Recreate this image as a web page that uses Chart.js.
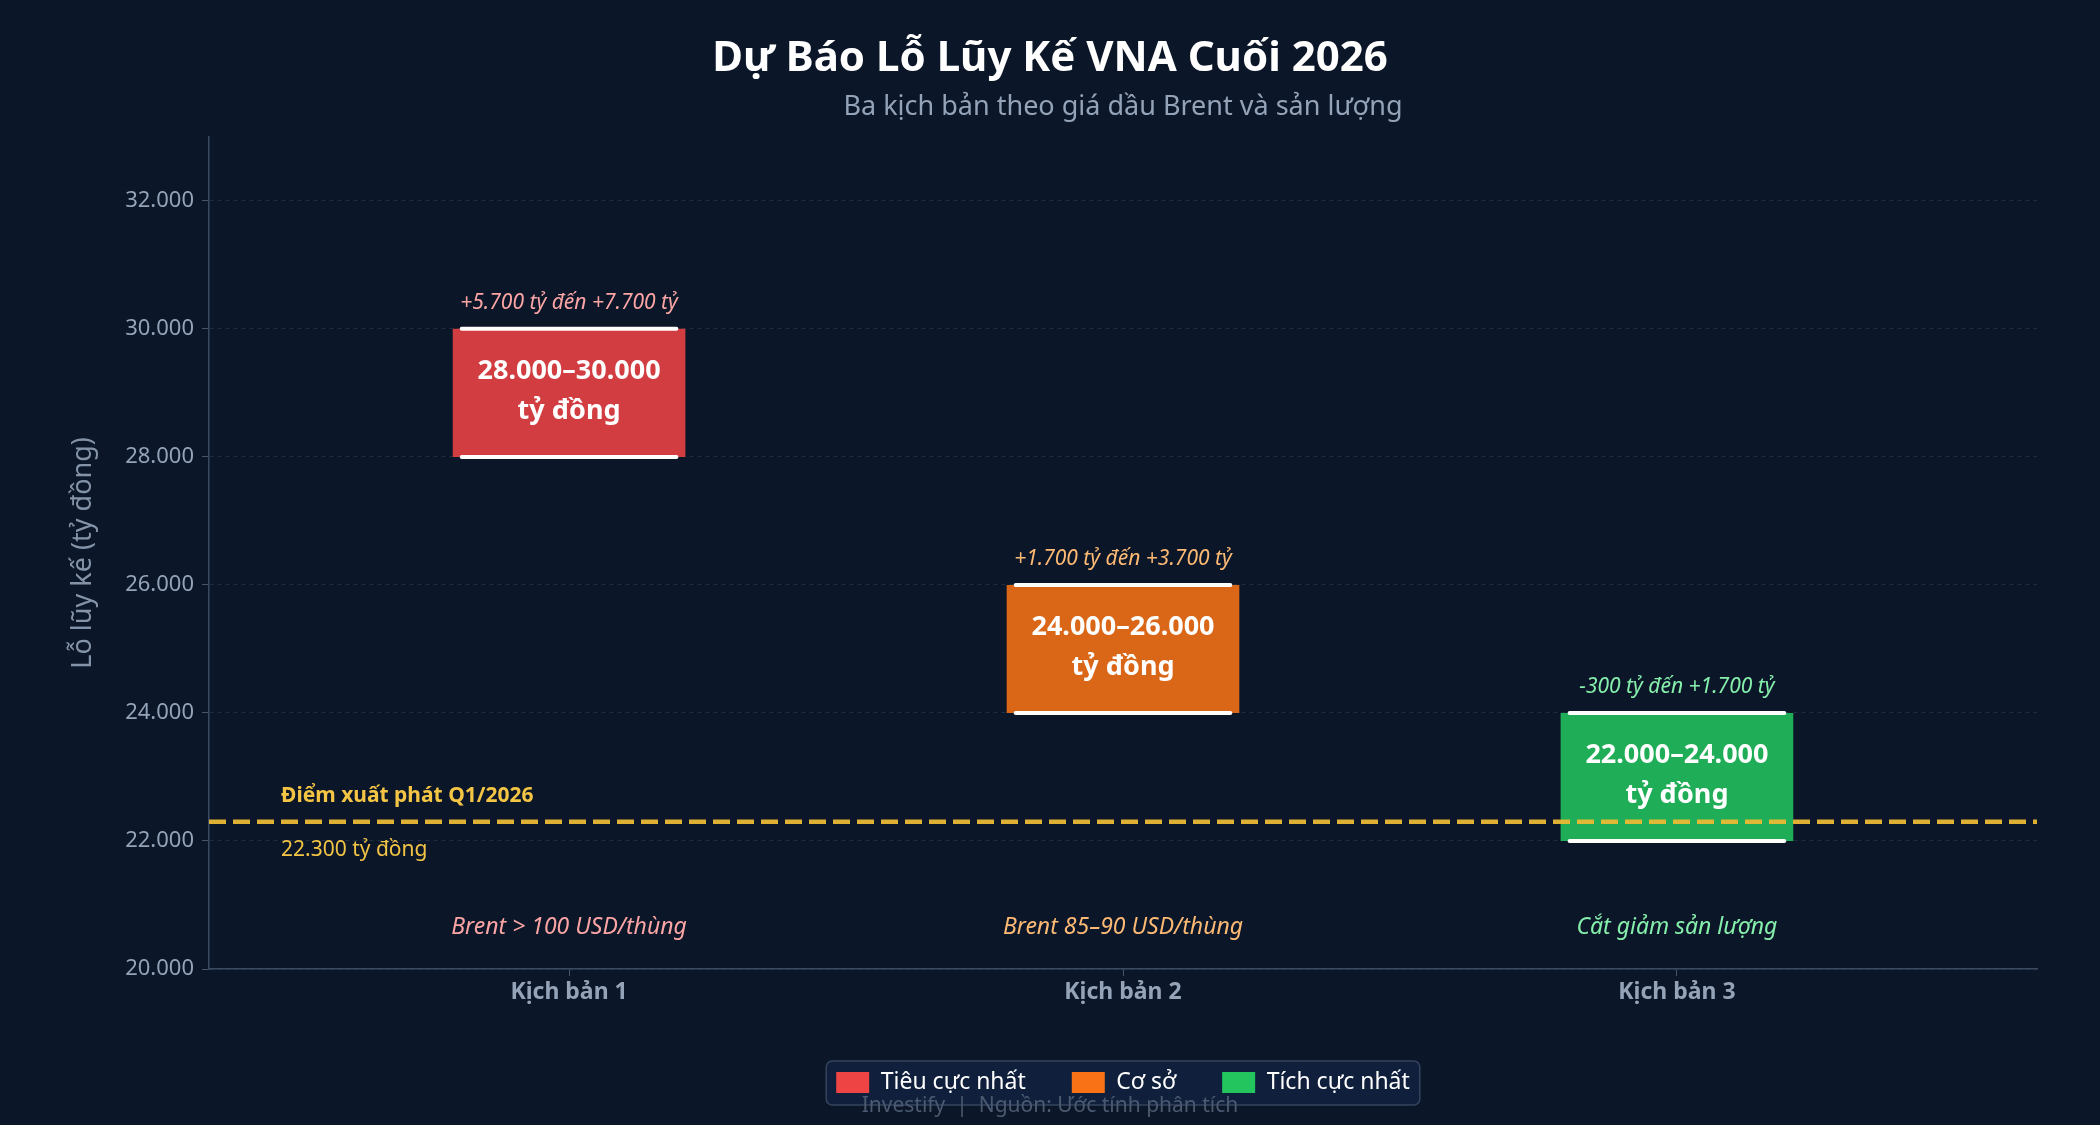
<!DOCTYPE html>
<html lang="vi">
<head>
<meta charset="utf-8">
<title>Dự Báo Lỗ Lũy Kế VNA Cuối 2026</title>
<script src="https://cdn.jsdelivr.net/npm/chart.js@4.4.1/dist/chart.umd.min.js"></script>
<style>
  html, body { margin: 0; padding: 0; background: #0b1628; }
  #wrap { width: 2100px; height: 1125px; }
</style>
</head>
<body>
<div id="wrap"><canvas id="lossChart" width="2100" height="1125"></canvas></div>
<script>
const categories = ['Kịch bản 1', 'Kịch bản 2', 'Kịch bản 3'];
const scenarioNames = ['Tiêu cực nhất', 'Cơ sở', 'Tích cực nhất'];
const lowValues = [28000, 24000, 22000];
const highValues = [30000, 26000, 24000];
const changeLabels = ['+5.700 tỷ đến +7.700 tỷ', '+1.700 tỷ đến +3.700 tỷ', '-300 tỷ đến +1.700 tỷ'];
const scenarioNotes = ['Brent > 100 USD/thùng', 'Brent 85–90 USD/thùng', 'Cắt giảm sản lượng'];
const startValue = 22300;
const yTicks = [20000, 22000, 24000, 26000, 28000, 30000, 32000];

const barColors = ['rgba(239,68,68,0.87)', 'rgba(249,115,22,0.87)', 'rgba(34,197,94,0.87)'];
const legendColors = ['#ef4444', '#f97316', '#22c55e'];
const noteColors = ['#fca5a5', '#fdba74', '#86efac'];
const FONT = "'Noto Sans', 'Open Sans', sans-serif";

function fmt(v) {
    return String(v).replace(/\B(?=(\d{3})+(?!\d))/g, '.');
}

const NOTE_Y = 20650;     // where the scenario notes sit
const START_LABEL_X = -0.52;

const overlay = {
    id: 'overlay',
    beforeDraw(chart) {
        // legend background box
        const boxes = chart.legend && chart.legend.legendHitBoxes;
        if (!boxes || !boxes.length) return;
        const ctx = chart.ctx;
        const left = Math.min(...boxes.map(b => b.left)) - 10;
        const right = Math.max(...boxes.map(b => b.left + b.width)) + 10;
        const top = boxes[0].top - 10;
        const bottom = boxes[0].top + boxes[0].height + 11;
        ctx.save();
        ctx.fillStyle = '#10203c';
        ctx.strokeStyle = '#34445c';
        ctx.lineWidth = 1.5;
        ctx.beginPath();
        ctx.roundRect(left, top, right - left, bottom - top, 6);
        ctx.fill();
        ctx.stroke();
        ctx.restore();
    },
    afterDatasetsDraw(chart) {
        const ctx = chart.ctx;
        const x = chart.scales.x;
        const y = chart.scales.y;
        const area = chart.chartArea;
        ctx.save();

        chart.data.datasets.forEach((ds, i) => {
            const bar = chart.getDatasetMeta(i).data[0];
            const half = bar.width / 2 - 9;
            const yTop = y.getPixelForValue(highValues[i]);
            const yBot = y.getPixelForValue(lowValues[i]);
            const yMid = (yTop + yBot) / 2;

            // white caps at both ends of the range
            ctx.strokeStyle = '#ffffff';
            ctx.lineWidth = 4;
            ctx.lineCap = 'round';
            ctx.beginPath();
            ctx.moveTo(bar.x - half, yTop); ctx.lineTo(bar.x + half, yTop);
            ctx.moveTo(bar.x - half, yBot); ctx.lineTo(bar.x + half, yBot);
            ctx.stroke();

            ctx.textAlign = 'center';
            ctx.textBaseline = 'middle';
            ctx.fillStyle = '#ffffff';
            ctx.font = `bold 27px ${FONT}`;
            ctx.fillText(`${fmt(lowValues[i])}–${fmt(highValues[i])}`, bar.x, yMid - 22);
            ctx.fillText('tỷ đồng', bar.x, yMid + 18);

            ctx.fillStyle = noteColors[i];
            ctx.font = `italic 21px ${FONT}`;
            ctx.fillText(changeLabels[i], bar.x, yTop - 26);

            ctx.font = `italic 23px ${FONT}`;
            ctx.fillText(scenarioNotes[i], bar.x, y.getPixelForValue(NOTE_Y));
        });

        // starting point reference line
        const yStart = y.getPixelForValue(startValue);
        ctx.strokeStyle = 'rgba(234,184,52,0.95)';
        ctx.lineWidth = 4.5;
        ctx.lineCap = 'butt';
        ctx.setLineDash([17, 7]);
        ctx.beginPath();
        ctx.moveTo(area.left, yStart);
        ctx.lineTo(area.right, yStart);
        ctx.stroke();
        ctx.setLineDash([]);

        const lx = x.getPixelForValue(START_LABEL_X);
        ctx.textAlign = 'left';
        ctx.textBaseline = 'middle';
        ctx.fillStyle = '#f4c545';
        ctx.font = `bold 21px ${FONT}`;
        ctx.fillText('Điểm xuất phát Q1/2026', lx, yStart - 26);
        ctx.font = `21px ${FONT}`;
        ctx.fillText(`${fmt(startValue)} tỷ đồng`, lx, yStart + 28);
        ctx.restore();
    },
    afterDraw(chart) {
        const ctx = chart.ctx;
        ctx.save();
        ctx.fillStyle = '#4b5a70';
        ctx.font = `21px ${FONT}`;
        ctx.textAlign = 'center';
        ctx.textBaseline = 'middle';
        ctx.fillText('Investify  |  Nguồn: Ước tính phân tích', chart.width / 2, 1106);
        ctx.restore();
    }
};

const ctx = document.getElementById('lossChart').getContext('2d');
new Chart(ctx, {
    type: 'bar',
    data: {
        datasets: categories.map((c, i) => ({
            label: scenarioNames[i],
            data: [{ x: i, y: [lowValues[i], highValues[i]] }],
            backgroundColor: barColors[i],
            borderWidth: 0,
            borderSkipped: false
        }))
    },
    options: {
        responsive: false,
        devicePixelRatio: 1,
        animation: false,
        grouped: false,
        categoryPercentage: 1,
        barPercentage: 0.42,
        layout: { padding: { left: 0, right: 0, top: 0, bottom: 21 } },
        scales: {
            x: {
                type: 'linear',
                min: -0.65,
                max: 2.65,
                offset: false,
                afterBuildTicks: (axis) => { axis.ticks = categories.map((c, i) => ({ value: i })); },
                afterFit: (axis) => { axis.height = 56; },
                ticks: {
                    callback: (v) => categories[v],
                    color: '#94a3b8',
                    font: { family: FONT, size: 23, weight: 'bold' },
                    padding: 3,
                    maxRotation: 0
                },
                grid: { display: true, drawOnChartArea: false, drawTicks: true, tickLength: 7, tickColor: '#475569', offset: false },
                border: { display: true, color: '#3b4a60', width: 1.5 }
            },
            y: {
                min: 20000,
                max: 33000,
                afterBuildTicks: (axis) => { axis.ticks = yTicks.map(v => ({ value: v })); },
                afterFit: (axis) => { axis.width = 209; },
                ticks: {
                    callback: (v) => fmt(v),
                    color: '#94a3b8',
                    font: { family: FONT, size: 22 },
                    padding: 8
                },
                grid: { color: 'rgba(71,85,105,0.35)', lineWidth: 1, tickLength: 7, tickColor: '#475569', tickBorderDash: [] },
                border: { display: true, color: '#3b4a60', width: 1.5, dash: [4, 4] },
                title: {
                    display: true,
                    text: 'Lỗ lũy kế (tỷ đồng)',
                    color: '#8493a8',
                    font: { family: FONT, size: 27 },
                    padding: { top: 67, bottom: 0 }
                }
            },
            // empty right margin so the plot ends where the reference does
            rightPad: {
                type: 'linear',
                position: 'right',
                display: true,
                ticks: { display: false },
                grid: { display: false, drawTicks: false },
                border: { display: false },
                afterFit: (axis) => { axis.width = 63; }
            }
        },
        plugins: {
            title: {
                display: true,
                text: 'Dự Báo Lỗ Lũy Kế VNA Cuối 2026',
                color: '#ffffff',
                font: { family: FONT, size: 42, weight: 'bold', lineHeight: 1.2 },
                padding: { top: 34, bottom: 0 }
            },
            subtitle: {
                display: true,
                fullSize: false,
                text: 'Ba kịch bản theo giá dầu Brent và sản lượng',
                color: '#94a3b8',
                font: { family: FONT, size: 27, lineHeight: 1.2 },
                padding: { top: 7, bottom: 13 }
            },
            legend: {
                display: true,
                position: 'bottom',
                fullSize: false,
                labels: {
                    boxWidth: 33,
                    boxHeight: 21,
                    padding: 46,
                    color: '#ffffff',
                    font: { family: FONT, size: 23 },
                    generateLabels: () => scenarioNames.map((n, i) => ({
                        text: n,
                        fillStyle: legendColors[i],
                        strokeStyle: legendColors[i],
                        lineWidth: 0,
                        fontColor: '#ffffff',
                        datasetIndex: i,
                        hidden: false
                    }))
                }
            },
            tooltip: { enabled: false }
        }
    },
    plugins: [overlay]
});
</script>
</body>
</html>
